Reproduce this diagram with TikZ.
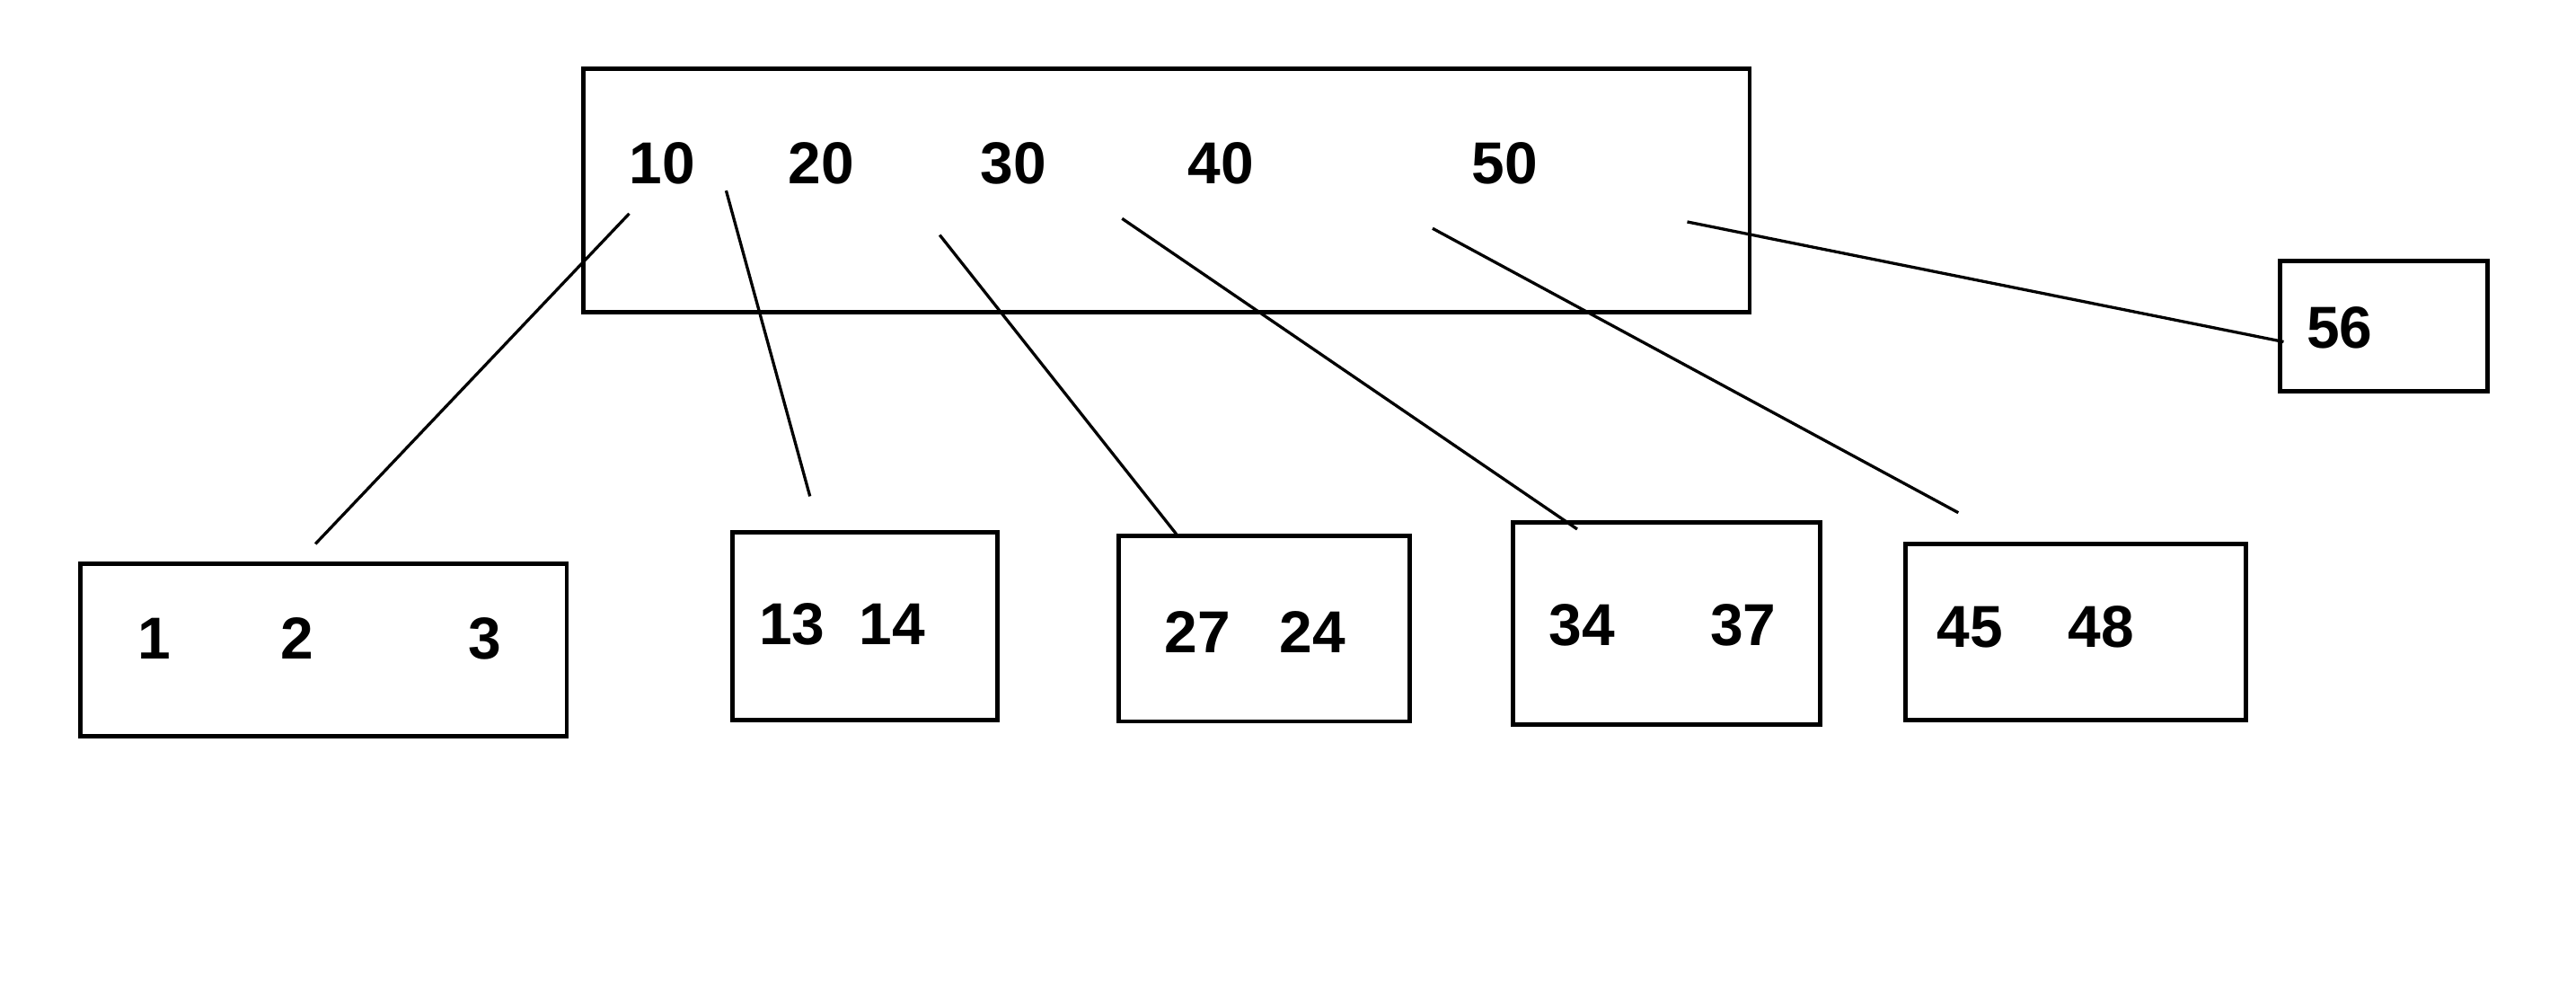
\documentclass[tikz,border=0pt]{standalone}
\usepackage{fontspec}
\setmainfont{Liberation Sans}
\tikzset{
  keybox/.style={draw, line width=2.6pt, inner sep=0pt},
  key/.style={font=\bfseries\fontsize{36}{36}\selectfont, anchor=base, inner sep=0pt},
  link/.style={line width=1.8pt}
}

\begin{document}
\begin{tikzpicture}[x=1pt,y=-1pt]
  \useasboundingbox (0,0) rectangle (1568,613);
  % boxes
  \node[keybox, minimum width=710pt, minimum height=148pt] (root) at (710,116) {};
  \node[keybox, minimum width=126pt, minimum height=79pt] (right) at (1451,198.5) {};
  \node[keybox, minimum width=296pt, minimum height=105pt] (leafA) at (197,395.5) {};
  \node[keybox, minimum width=161pt, minimum height=114pt] (leafB) at (526.5,381) {};
  \node[keybox, minimum width=177pt, minimum height=113pt] (leafC) at (769.5,382.5) {};
  \node[keybox, minimum width=187pt, minimum height=123pt] (leafD) at (1014.5,379.5) {};
  \node[keybox, minimum width=207pt, minimum height=107pt] (leafE) at (1263.5,384.5) {};
  % keys
  \node[key] (k10) at (403,112) {10}; \node[key] (k20) at (500,112) {20};
  \node[key] (k30) at (617,112) {30}; \node[key] (k40) at (743,112) {40};
  \node[key] (k50) at (916,112) {50};
  \node[key] (k56) at (1424,212) {56};
  \node[key] (k1) at (94,401) {1}; \node[key] (k2) at (181,401) {2}; \node[key] (k3) at (295,401) {3};
  \node[key] (k13) at (482,392) {13}; \node[key] (k14) at (543,392) {14};
  \node[key] (k27) at (729,397) {27}; \node[key] (k24) at (799,397) {24};
  \node[key] (k34) at (963,393) {34}; \node[key] (k37) at (1061,393) {37};
  \node[key] (k45) at (1199,394) {45}; \node[key] (k48) at (1279,394) {48};
  % pointers
  \coordinate (pA) at (383,130); \coordinate (qA) at (192,331);
  \coordinate (pB) at (442,116); \coordinate (qB) at (493,302);
  \coordinate (pC) at (572,143); \coordinate (qC) at (716,325);
  \coordinate (pD) at (683,133); \coordinate (qD) at (960,322);
  \coordinate (pE) at (872,139); \coordinate (qE) at (1192,312);
  \coordinate (pR) at (1027,135); \coordinate (qR) at (1390,208);
  \draw[link] (pA) -- (qA); \draw[link] (pB) -- (qB); \draw[link] (pC) -- (qC);
  \draw[link] (pD) -- (qD); \draw[link] (pE) -- (qE); \draw[link] (pR) -- (qR);
\end{tikzpicture}
\end{document}
